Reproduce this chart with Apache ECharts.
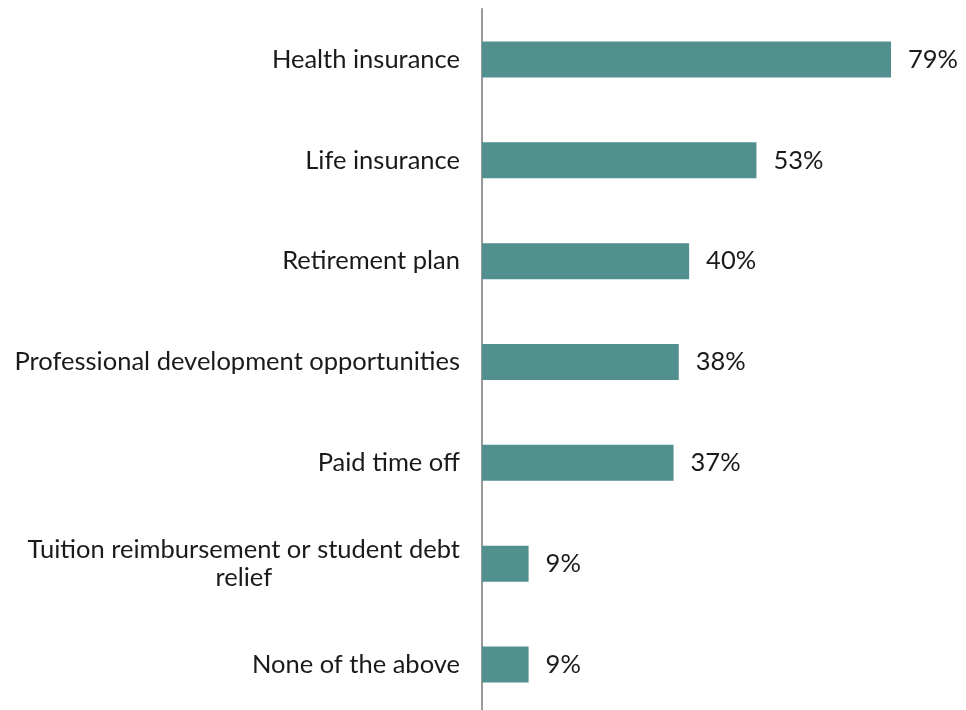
<!DOCTYPE html>
<html>
<head>
<meta charset="utf-8">
<script src="https://cdn.jsdelivr.net/npm/echarts@6/dist/echarts.min.js"></script>
<style>
  html, body { margin: 0; padding: 0; background: #ffffff; }
  #chart { width: 966px; height: 710px; }
</style>
</head>
<body>
<div id="chart"></div>
<script>
// Benefits offered, share of respondents (%)
const categories = [
  'Health insurance',
  'Life insurance',
  'Retirement plan',
  'Professional development opportunities',
  'Paid time off',
  'Tuition reimbursement or student debt\nrelief',
  'None of the above'
];
const values = [79, 53, 40, 38, 37, 9, 9];

const chart = echarts.init(document.getElementById('chart'));
const font = 'Lato, "Noto Sans", sans-serif';
const fontSize = 25.5;

chart.setOption({
  animation: false,
  grid: {
    left: 482, width: 466, top: 9, height: 706,
    containLabel: false,
    outerBoundsMode: 'none'
  },
  xAxis: {
    type: 'value',
    min: 0,
    max: 90,
    show: false
  },
  yAxis: {
    type: 'category',
    inverse: true,
    data: categories,
    axisLine: { show: true, lineStyle: { color: '#999999', width: 2 } },
    axisTick: { show: false },
    splitLine: { show: false },
    axisLabel: {
      margin: 22,
      color: '#1a1a1a',
      fontFamily: font,
      fontSize: fontSize,
      lineHeight: 28,
      formatter: function (v) {
        return v.split('\n').map(function (l) { return '{c|' + l + '}'; }).join('\n');
      },
      rich: {
        c: { align: 'center', fontFamily: font, fontSize: fontSize, lineHeight: 28, color: '#1a1a1a' }
      }
    }
  },
  series: [{
    type: 'bar',
    data: values,
    barWidth: 36,
    itemStyle: { color: '#528f8f' },
    label: {
      show: true,
      position: 'right',
      distance: 17,
      formatter: '{c}%',
      color: '#1a1a1a',
      fontFamily: font,
      fontSize: fontSize
    }
  }]
});
</script>
</body>
</html>
